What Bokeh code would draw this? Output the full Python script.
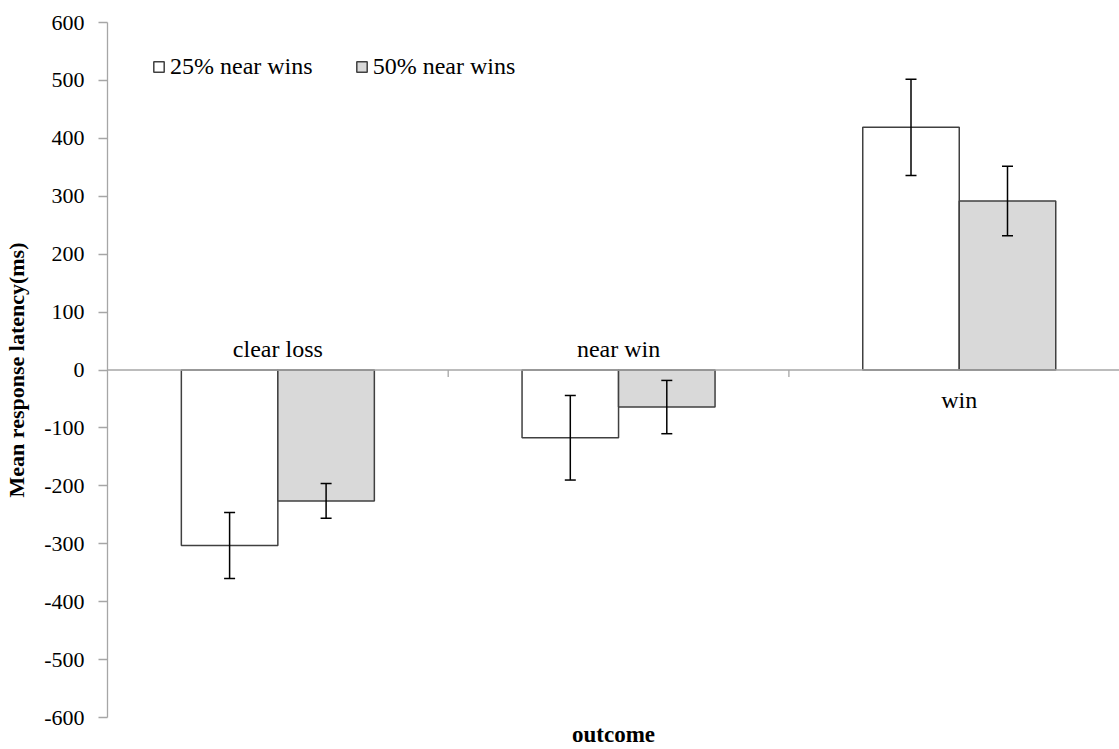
import numpy as np
from bokeh.plotting import figure
from bokeh.models import (ColumnDataSource, Whisker, TeeHead, Span, FixedTicker,
                          PrintfTickFormatter, Legend, LegendItem, Range1d)
from bokeh.core.properties import value
from bokeh.embed import file_html
from bokeh.resources import INLINE

categories = ["clear loss", "near win", "win"]
series_names = ["25% near wins", "50% near wins"]
mean_25 = [-303, -117, 419]
mean_50 = [-226, -64, 292]
err_25 = [57, 73, 83]
err_50 = [30, 46, 60]
y_ticks = [-600, -500, -400, -300, -200, -100, 0, 100, 200, 300, 400, 500, 600]

SERIF = "Liberation Serif"
GREY = "#a6a6a6"
W, H = 1119, 749
LEFT, TOP, BOTTOM = 107, 22, 31
FRAME_W = W - LEFT
FRAME_H = H - TOP - BOTTOM
CAT_PX = 340.7
bw = 96.5 / CAT_PX

p = figure(width=W, height=H, output_backend="svg", toolbar_location=None,
           x_range=Range1d(0, FRAME_W / CAT_PX), y_range=Range1d(-600, 600),
           min_border_left=LEFT, min_border_right=0, min_border_top=TOP,
           min_border_bottom=BOTTOM)
p.outline_line_color = None
p.grid.visible = False
p.background_fill_color = "white"

idx = np.arange(len(categories))
src = ColumnDataSource(dict(
    x25=idx + 0.5 - bw / 2, x50=idx + 0.5 + bw / 2,
    m25=mean_25, m50=mean_50,
    u25=np.array(mean_25) + np.array(err_25), l25=np.array(mean_25) - np.array(err_25),
    u50=np.array(mean_50) + np.array(err_50), l50=np.array(mean_50) - np.array(err_50),
))

r25 = p.vbar(x="x25", top="m25", bottom=0, width=bw, source=src,
             fill_color="white", line_color="#404040", line_width=1.5)
r50 = p.vbar(x="x50", top="m50", bottom=0, width=bw, source=src,
             fill_color="#d9d9d9", line_color="#404040", line_width=1.5)

for base, up, lo in (("x25", "u25", "l25"), ("x50", "u50", "l50")):
    w = Whisker(base=base, upper=up, lower=lo, source=src, dimension="height",
                line_color="black", line_width=1.5, level="overlay",
                upper_head=TeeHead(size=11, line_color="black", line_width=1.5),
                lower_head=TeeHead(size=11, line_color="black", line_width=1.5))
    p.add_layout(w)

# zero line (category axis)
p.add_layout(Span(location=0, dimension="width", line_color=GREY, line_width=1.3))

# category boundary tick marks
px_per_unit = FRAME_H / 1200
tick_len = 7 / px_per_unit
bounds = idx[1:].astype(float)
p.segment(x0=bounds, x1=bounds, y0=np.zeros(len(bounds)), y1=np.full(len(bounds), -tick_len),
          line_color=GREY, line_width=1.3)

# category labels next to the zero line, away from the bars
offs = [-21 if m < 0 else 30 for m in mean_25]
lab = ColumnDataSource(dict(x=idx + 0.5, y=np.zeros(len(categories)), t=categories, off=offs))
p.text(x="x", y="y", text="t", y_offset="off", source=lab, text_align="center",
       text_baseline="alphabetic", text_font=value(SERIF), text_font_size="24px",
       text_color="black")

# y axis
ya = p.yaxis[0]
ya.ticker = FixedTicker(ticks=y_ticks)
ya.formatter = PrintfTickFormatter(format="%d")
ya.axis_line_color = GREY
ya.axis_line_width = 1.3
ya.major_tick_line_color = GREY
ya.major_tick_line_width = 1.3
ya.major_tick_in = 0
ya.major_tick_out = 9
ya.minor_tick_line_color = None
ya.major_label_standoff = 14
ya.major_label_text_font = SERIF
ya.major_label_text_font_size = "22px"
ya.major_label_text_color = "black"
ya.axis_label = "Mean response latency(ms)"
ya.axis_label_text_font = SERIF
ya.axis_label_text_font_style = "bold"
ya.axis_label_text_font_size = "22px"
ya.axis_label_text_color = "black"
ya.axis_label_standoff = 12

# x axis: title only
xa = p.xaxis[0]
xa.ticker = FixedTicker(ticks=[])
xa.axis_line_color = None
xa.major_tick_line_color = None
xa.minor_tick_line_color = None
xa.axis_label = "outcome"
xa.axis_label_text_font = SERIF
xa.axis_label_text_font_style = "bold"
xa.axis_label_text_font_size = "23px"
xa.axis_label_text_color = "black"
xa.axis_label_standoff = 4

legend = Legend(items=[LegendItem(label=series_names[0], renderers=[r25]),
                       LegendItem(label=series_names[1], renderers=[r50])],
                orientation="horizontal", location=(45, 637),
                glyph_width=13, glyph_height=13, label_height=13, label_standoff=5,
                spacing=42, padding=0, margin=0, border_line_color=None,
                background_fill_alpha=0, label_text_font=SERIF, label_text_font_size="24px",
                label_text_color="black")
p.add_layout(legend)

open("out.html", "w").write(file_html(p, INLINE))
